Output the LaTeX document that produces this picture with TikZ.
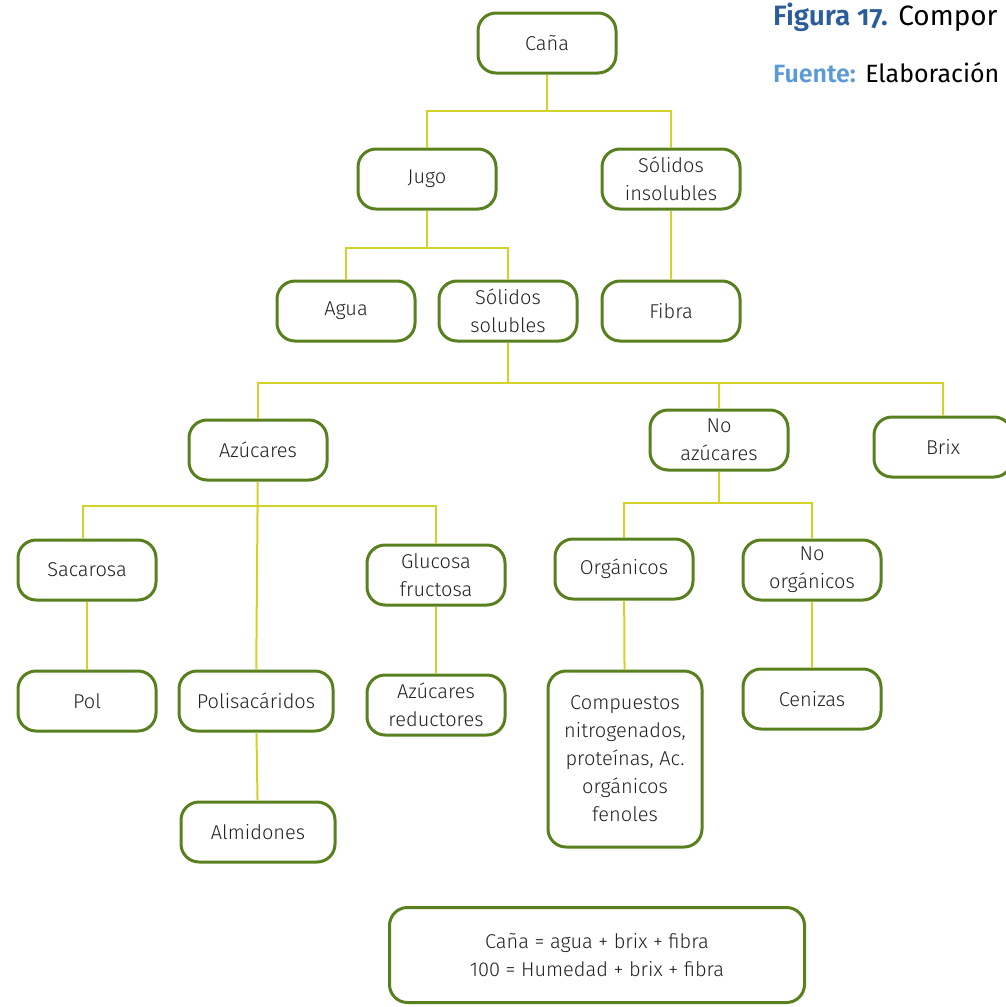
\documentclass[tikz,border=0pt]{standalone}
\usepackage{fontspec}
\setmainfont{Fira Sans}[UprightFont=* Light, BoldFont=* SemiBold]
\usetikzlibrary{positioning}

\definecolor{boxgreen}{HTML}{58801E}
\definecolor{linkyellow}{HTML}{D2D228}
\definecolor{textgray}{HTML}{222222}
\definecolor{figblue}{HTML}{2A5D9A}
\definecolor{srcblue}{HTML}{5B9BD5}

\tikzset{
  part/.style={draw=boxgreen, line width=3pt, rounded corners=18pt, fill=white,
    minimum width=138pt, minimum height=60pt, align=center, text=textgray,
    font=\fontsize{20}{28}\selectfont, inner sep=2pt},
  link/.style={draw=linkyellow, line width=2pt},
  caption/.style={anchor=base west, inner sep=0, text=black}
}

\begin{document}
\begin{tikzpicture}[x=1pt, y=-1pt]

  \useasboundingbox (0,0) rectangle (1005,1007);

  % Caption (cut at the right edge)
  \node[caption, font=\fontsize{28}{30}\selectfont\addfontfeatures{Numbers=OldStyle}] (fig) at (773,25)
    {\textbf{\color{figblue}Figura 17.} {\fontspec{Fira Sans}Compor}};
  \node[caption, font=\fontsize{25}{28}\selectfont] (src) at (773,82)
    {\textbf{\color{srcblue}Fuente:} {\fontspec{Fira Sans}Elaboración}};

  % Boxes
  \node[part] (cana) at (547,43) {Caña};
  \node[part] (jugo) at (427,179) {Jugo};
  \node[part] (insol) at (671,179) {Sólidos\\insolubles};
  \node[part] (agua) at (346,311) {Agua};
  \node[part] (sol) at (508,311) {Sólidos\\solubles};
  \node[part] (fibra) at (671,311) {Fibra};
  \node[part] (azu) at (258,450) {Azúcares};
  \node[part] (noazu) at (719,440) {No\\azúcares};
  \node[part] (brix) at (943,447) {Brix};
  \node[part] (sac) at (87,570) {Sacarosa};
  \node[part] (gluc) at (436,575) {Glucosa\\fructosa};
  \node[part] (org) at (624,569) {Orgánicos};
  \node[part] (noorg) at (812,570) {No\\orgánicos};
  \node[part] (pol) at (87,701) {Pol};
  \node[part, minimum width=154pt] (poli) at (256,701) {Polisacáridos};
  \node[part] (red) at (436,705) {Azúcares\\reductores};
  \node[part, minimum width=154pt, minimum height=176pt] (comp) at (625,759)
    {Compuestos\\nitrogenados,\\proteínas, Ac.\\orgánicos\\fenoles};
  \node[part] (ceniz) at (812,699) {Cenizas};
  \node[part, minimum width=154pt] (almi) at (258,832) {Almidones};
  \node[part, minimum width=415pt, minimum height=95pt] (eq) at (597,955)
    {Caña = agua + brix + fibra\\100 = Humedad + brix + fibra};

  % Branch points
  \coordinate (b1) at (547,111);
  \coordinate (b2) at (427,248);
  \coordinate (b3) at (508,383);
  \coordinate (b4) at (258,506);
  \coordinate (b5) at (719,503);

  % Links
  \draw[link] (cana) -- (b1) -| (jugo);
  \draw[link] (b1) -| (insol);
  \draw[link] (insol) -- (fibra);
  \draw[link] (jugo) -- (b2) -| (agua);
  \draw[link] (b2) -| (sol);
  \draw[link] (sol) -- (b3) -| (azu);
  \draw[link] (b3) -| (noazu);
  \draw[link] (b3) -| (brix);
  \draw[link] (azu) -- (poli);
  \draw[link] (b4) -| ([xshift=-4pt]sac.north);
  \draw[link] (b4) -| (gluc);
  \draw[link] (sac) -- (pol);
  \draw[link] (gluc) -- (red);
  \draw[link] (poli) -- (almi);
  \draw[link] (noazu) -- (b5) -| (org);
  \draw[link] (b5) -| (noorg);
  \draw[link] (org) -- (comp);
  \draw[link] (noorg) -- (ceniz);

\end{tikzpicture}
\end{document}
